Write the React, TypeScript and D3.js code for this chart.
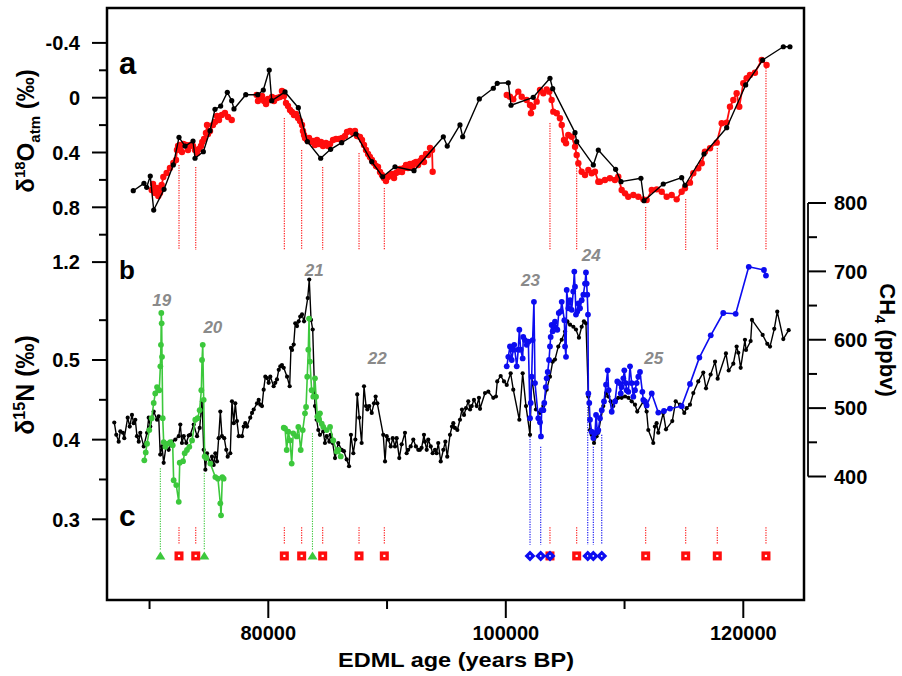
import React from 'react';
import * as d3 from 'd3';

// ---------- DATA (age in ka BP, values in axis units) ----------
const d18oBlack: [number, number][] = [
  [68.63,0.679],[69.53,0.625],[69.76,0.654],[70.06,0.572],[70.35,0.820],[71.22,0.669],[72.00,0.491],[72.48,0.289],[72.99,0.353],[73.66,0.316],[73.83,0.442],[74.53,0.394],[75.09,0.241],[75.51,0.085],[75.99,0.061],[76.55,-0.039],[76.92,0.022],[77.11,0.082],[78.10,-0.022],[79.11,-0.022],[79.58,-0.056],[80.08,-0.202],[80.29,0.022],[81.41,-0.042],[82.53,0.073],[83.29,0.321],[84.41,0.442],[85.25,0.377],[86.18,0.328],[87.38,0.265],[88.71,0.467],[89.63,0.577],[90.67,0.504],[92.27,0.533],[94.74,0.285],[95.07,0.353],[96.14,0.199],[96.37,0.285],[97.77,0.009],[98.95,-0.069],[99.28,-0.105],[100.21,-0.109],[100.44,0.055],[102.31,-0.003],[103.72,-0.142],[103.95,-0.066],[105.83,0.255],[105.97,0.321],[107.37,0.491],[107.79,0.382],[109.25,0.523],[109.70,0.613],[111.38,0.588],[111.64,0.752],[113.26,0.630],[114.81,0.584],[115.09,0.639],[116.69,0.411],[118.60,0.219],[120.20,-0.093],[121.63,-0.275],[123.37,-0.372],[123.93,-0.372]
];

const d18oRed1: [number, number][] = [
  [70.18,0.674],[70.29,0.630],[70.46,0.696],[70.63,0.659],[70.74,0.718],[70.88,0.696],[71.02,0.637],[71.16,0.579],[71.44,0.550],[71.72,0.513],[72.00,0.477],[72.23,0.455],[72.31,0.382],[72.40,0.353],[72.56,0.345],[72.73,0.396],[72.84,0.338],[73.07,0.345],[73.24,0.382],[73.41,0.345],[73.66,0.353],[73.83,0.382],[74.00,0.404],[74.16,0.374],[74.33,0.353],[74.44,0.323],[74.59,0.301],[74.75,0.258],[74.84,0.199],[74.92,0.265],[75.09,0.243],[75.34,0.199],[75.51,0.177],[75.68,0.134],[75.85,0.163],[76.08,0.126],[76.35,0.112],[76.61,0.141],[76.92,0.163]
];

const d18oRed2: [number, number][] = [
  [79.02,-0.020],[79.13,0.024],[79.30,0.002],[79.47,-0.012],[79.64,0.024],[79.81,0.046],[79.97,0.009],[80.14,0.017],[80.31,-0.005],[80.48,0.024],[80.73,0.002],[80.98,-0.005],[81.15,-0.049],[81.32,-0.012],[81.49,0.039],[81.66,0.061],[81.83,0.090],[81.99,0.104],[82.16,0.126],[82.33,0.119],[82.50,0.148],[82.67,0.170],[82.84,0.199],[82.92,0.243],[83.01,0.272],[83.09,0.294],[83.26,0.309],[83.43,0.294],[83.60,0.323],[83.76,0.316],[83.93,0.345],[84.10,0.309],[84.27,0.338],[84.44,0.323],[84.61,0.353],[84.86,0.331],[85.03,0.353],[85.20,0.338],[85.45,0.309],[85.70,0.301],[85.95,0.301],[86.21,0.294],[86.46,0.280],[86.63,0.250],[86.88,0.243],[87.13,0.258],[87.30,0.243],[87.47,0.280],[87.72,0.287],[87.89,0.309],[88.06,0.345],[88.23,0.382],[88.40,0.411],[88.56,0.433],[88.73,0.455],[88.90,0.477],[89.07,0.499],[89.24,0.506],[89.41,0.542],[89.57,0.564],[89.74,0.586],[89.91,0.608],[90.08,0.579],[90.25,0.564],[90.42,0.557],[90.59,0.586],[90.75,0.550],[90.92,0.542],[91.09,0.520],[91.26,0.542],[91.43,0.513],[91.60,0.491],[91.76,0.513],[91.93,0.484],[92.10,0.506],[92.27,0.477],[92.44,0.469],[92.61,0.491],[92.78,0.462],[92.94,0.440],[93.11,0.469],[93.28,0.411],[93.45,0.418],[93.62,0.367],[93.79,0.382],[93.84,0.540]
];

const d18oRed3: [number, number][] = [
  [100.08,-0.020],[100.35,-0.007],[100.63,0.012],[101.05,-0.044],[101.34,-0.007],[101.76,0.017],[102.04,0.053],[102.12,0.114],[102.30,0.066],[102.60,0.029],[102.88,-0.056],[103.16,-0.032],[103.44,-0.061],[103.66,-0.044],[103.86,0.017],[104.00,0.102],[104.29,0.114],[104.56,0.150],[104.71,0.199],[104.90,0.309],[105.07,0.333],[105.26,0.272],[105.55,0.285],[105.83,0.358],[105.97,0.418],[106.11,0.479],[106.39,0.540],[106.67,0.564],[106.95,0.528],[107.23,0.552],[107.51,0.540],[107.79,0.613],[107.93,0.613],[108.35,0.601],[108.77,0.588],[109.19,0.601],[109.47,0.577],[109.76,0.674],[110.04,0.698],[110.31,0.723],[110.74,0.710],[111.16,0.723],[111.58,0.742],[111.86,0.747],[112.29,0.674],[112.71,0.669],[113.13,0.686],[113.55,0.723],[113.97,0.710],[114.39,0.742],[114.81,0.686],[115.09,0.661],[115.51,0.620],[115.79,0.552],[116.21,0.515],[116.50,0.479],[116.77,0.394],[117.20,0.369],[117.76,0.328],[118.18,0.187],[118.60,0.182],[118.88,0.066],[119.16,0.017],[119.44,-0.032],[119.66,0.066],[120.00,-0.105],[120.28,-0.142],[120.56,-0.166],[120.98,-0.182],[121.55,-0.275],[121.96,-0.239]
];

const ch4Black: [number, number][] = [
  [67.03,479],[67.20,461],[67.40,451],[67.54,466],[67.76,464],[67.87,456],[68.16,486],[68.33,473],[68.52,490],[68.66,478],[68.80,483],[68.94,459],[69.09,451],[69.22,464],[69.51,444],[69.79,464],[69.93,486],[70.06,473],[70.35,495],[70.63,483],[70.77,488],[70.90,432],[71.05,444],[71.19,420],[71.41,447],[71.61,439],[71.89,451],[72.17,454],[72.46,459],[72.59,476],[72.73,449],[72.88,459],[73.09,449],[73.30,460],[73.43,461],[73.72,476],[74.00,459],[74.22,471],[74.42,510],[74.56,439],[74.70,410],[74.84,434],[75.12,420],[75.26,429],[75.40,417],[75.54,434],[75.68,422],[75.82,456],[75.96,495],[76.10,459],[76.29,456],[76.46,439],[76.58,429],[76.80,434],[76.94,510],[77.09,478],[77.22,507],[77.36,481],[77.51,459],[77.79,459],[77.93,473],[78.06,478],[78.21,473],[78.48,486],[78.63,493],[78.77,498],[79.05,507],[79.19,512],[79.33,505],[79.47,503],[79.61,527],[79.75,546],[79.89,544],[80.03,537],[80.17,546],[80.45,532],[80.59,537],[80.73,542],[80.88,556],[81.01,561],[81.15,563],[81.30,559],[81.58,546],[81.80,532],[81.91,588],[82.00,585],[82.14,593],[82.27,624],[82.42,620],[82.56,627],[82.69,634],[82.84,637],[83.01,627],[83.32,661],[83.45,688],[83.60,629],[83.74,615],[83.93,503],[84.07,483],[84.21,468],[84.35,461],[84.63,466],[84.77,449],[84.92,459],[85.14,451],[85.25,461],[85.42,449],[85.62,427],[85.89,449],[86.18,439],[86.37,437],[86.60,425],[86.80,415],[86.96,461],[87.16,434],[87.33,454],[87.49,520],[87.66,486],[87.86,449],[88.06,532],[88.23,503],[88.34,498],[88.50,503],[88.71,493],[88.90,507],[89.04,517],[89.18,507],[89.68,461],[89.83,422],[89.97,459],[90.10,454],[90.31,444],[90.48,456],[90.67,444],[90.81,456],[91.03,427],[91.23,447],[91.51,464],[91.65,434],[91.78,439],[91.99,444],[92.21,454],[92.43,444],[92.63,439],[92.77,439],[92.91,442],[93.11,461],[93.19,451],[93.34,439],[93.47,454],[93.68,444],[93.84,434],[94.04,439],[94.18,434],[94.31,449],[94.52,422],[94.74,439],[94.91,451],[95.07,429],[95.30,461],[95.47,473],[95.58,478],[95.72,471],[95.92,468],[96.14,483],[96.31,498],[96.48,490],[96.65,500],[96.84,510],[96.99,498],[97.13,503],[97.32,512],[97.55,503],[97.74,515],[97.83,499],[98.25,522],[98.53,524],[98.95,515],[99.17,517],[99.28,539],[99.57,547],[99.85,539],[100.08,534],[100.41,551],[100.63,527],[101.14,483],[101.42,551],[101.70,503],[102.04,461],[102.18,546],[102.54,498],[102.88,493],[103.16,503],[103.44,527],[103.72,546],[103.95,568],[104.14,571],[104.42,590],[104.71,600],[104.99,612],[105.18,627],[105.41,622],[105.69,619],[105.91,615],[106.16,603],[106.39,619],[106.58,627],[106.75,624],[106.95,517],[107.09,468],[107.23,461],[107.43,449],[107.65,459],[107.79,464],[108.21,503],[108.44,522],[108.63,517],[108.83,510],[109.05,503],[109.28,512],[109.47,515],[109.76,515],[110.04,517],[110.32,515],[110.60,510],[110.88,505],[111.07,495],[111.58,510],[111.86,495],[112.00,468],[112.42,449],[112.56,473],[112.70,478],[112.84,464],[113.26,493],[113.49,469],[114.02,481],[114.31,510],[114.67,505],[115.03,493],[115.23,500],[115.51,505],[115.79,522],[116.21,539],[116.63,552],[116.86,529],[117.25,549],[117.62,568],[117.84,543],[118.54,580],[118.77,555],[119.16,565],[119.44,590],[119.58,581],[119.78,559],[120.14,600],[120.23,585],[120.62,598],[120.73,629],[121.63,607],[122.02,594],[122.25,590],[122.61,616],[122.86,641],[123.37,601],[123.82,614]
];

const d15nGreen1: [number, number][] = [
  [69.56,0.374],[69.68,0.384],[69.79,0.395],[69.98,0.412],[70.18,0.427],[70.35,0.446],[70.48,0.458],[70.63,0.466],[70.82,0.462],[70.91,0.492],[70.96,0.519],[70.99,0.559],[71.02,0.546],[71.05,0.504],[71.11,0.427],[71.19,0.397],[71.33,0.391],[71.53,0.395],[71.75,0.397],[71.95,0.393],[72.03,0.349],[72.25,0.343],[72.46,0.322],[72.54,0.371],[72.82,0.373],[72.96,0.383],[73.15,0.387],[73.35,0.391],[73.58,0.399],[73.85,0.425],[74.05,0.427],[74.22,0.437],[74.36,0.462],[74.42,0.500],[74.48,0.519],[74.56,0.450],[74.64,0.379],[74.78,0.377],[75.12,0.370],[75.54,0.353],[75.76,0.351],[75.96,0.320],[76.02,0.305],[76.13,0.353],[76.24,0.351]
];

const d15nGreen2: [number, number][] = [
  [81.30,0.415],[81.41,0.414],[81.55,0.387],[81.68,0.410],[81.83,0.399],[81.97,0.370],[82.10,0.408],[82.39,0.404],[82.53,0.416],[82.73,0.387],[82.90,0.412],[83.09,0.433],[83.18,0.441],[83.28,0.479],[83.37,0.513],[83.43,0.552],[83.51,0.498],[83.65,0.462],[83.79,0.454],[83.93,0.477],[84.02,0.454],[84.13,0.429],[84.27,0.425],[84.35,0.433],[84.50,0.420],[84.63,0.416],[84.92,0.412],[85.20,0.416],[85.47,0.399],[85.76,0.385],[85.90,0.387],[86.10,0.379]
];

const d15nBlue: [number, number][] = [
  [100.08,0.492],[100.21,0.504],[100.35,0.517],[100.50,0.500],[100.63,0.513],[100.71,0.519],[100.92,0.492],[101.05,0.513],[101.14,0.538],[101.25,0.513],[101.42,0.502],[101.47,0.529],[101.61,0.525],[101.76,0.519],[101.90,0.523],[102.04,0.427],[102.10,0.446],[102.18,0.479],[102.26,0.525],[102.37,0.573],[102.46,0.471],[102.74,0.427],[102.88,0.422],[102.96,0.404],[103.02,0.437],[103.16,0.437],[103.24,0.446],[103.36,0.466],[103.44,0.477],[103.53,0.485],[103.64,0.500],[103.72,0.517],[103.78,0.529],[103.86,0.544],[103.95,0.536],[104.06,0.542],[104.14,0.548],[104.34,0.538],[104.46,0.559],[104.62,0.561],[104.71,0.573],[104.93,0.550],[104.99,0.517],[105.07,0.504],[105.13,0.588],[105.27,0.565],[105.41,0.575],[105.55,0.563],[105.68,0.586],[105.77,0.611],[105.83,0.592],[105.91,0.557],[106.02,0.561],[106.11,0.571],[106.25,0.565],[106.39,0.575],[106.53,0.582],[106.67,0.596],[106.75,0.610],[106.81,0.596],[106.86,0.582],[106.92,0.557],[106.95,0.458],[107.03,0.446],[107.09,0.425],[107.23,0.410],[107.37,0.402],[107.51,0.408],[107.60,0.431],[107.71,0.410],[107.79,0.412],[107.93,0.427],[108.08,0.437],[108.27,0.448],[108.44,0.469],[108.58,0.487],[108.66,0.462],[108.92,0.435],[109.20,0.448],[109.39,0.473],[109.56,0.471],[109.68,0.458],[109.76,0.466],[109.90,0.477],[109.98,0.487],[110.10,0.471],[110.18,0.462],[110.32,0.460],[110.46,0.492],[110.60,0.471],[110.74,0.454],[110.88,0.462],[111.02,0.471],[111.16,0.479],[111.30,0.485],[111.50,0.460],[111.58,0.450],[111.72,0.448],[111.86,0.443],[112.29,0.458],[112.84,0.434],[113.32,0.436],[113.83,0.439],[114.81,0.442],[115.51,0.470],[116.30,0.503],[117.26,0.531],[118.31,0.559],[119.36,0.558],[120.46,0.617],[121.74,0.613],[121.91,0.606]
];

// tie points
const redTieAges = [72.48, 73.89, 81.35, 82.81, 84.58, 87.64, 89.77, 103.72, 105.97, 111.78, 115.15, 117.81, 121.91];
const redTieTopD18O = [0.492, 0.506, 0.148, 0.382, 0.506, 0.404, 0.659, 0.185, 0.477, 0.798, 0.739, 0.367, -0.253];
const redTieBottomD18O = 1.112;
const greenTieAges = [70.91, 74.61, 83.72];
const greenTieTopD15N = [0.364, 0.358, 0.408];
const blueTieAges = [102.04, 102.94, 103.72, 106.90, 107.37, 108.08];
const blueTieTopD15N = [0.404, 0.391, NaN, 0.441, 0.391, 0.406];
const markerLevelD15N = 0.254;
const tieLineBottomD15N = 0.268;
const redShortTopD15N = 0.290;

// event labels
const eventNames = ['19', '20', '21', '22', '23', '24', '25'];
const eventAges = [71.02, 75.33, 83.87, 89.17, 102.08, 107.20, 112.46];
const eventLevelsD15N = [0.568, 0.534, 0.605, 0.495, 0.593, 0.624, 0.495];

// axis ticks
const ageMajor = [80, 100, 120];
const ageMajorLabels = ['80000', '100000', '120000'];
const ageMinor = [70, 90, 110];
const d18oMajor = [-0.4, 0, 0.4, 0.8, 1.2];
const d18oMajorLabels = ['-0.4', '0', '0.4', '0.8', '1.2'];
const d18oMinor = [-0.2, 0.2, 0.6, 1.0];
const d15nMajor = [0.3, 0.4, 0.5];
const d15nMajorLabels = ['0.3', '0.4', '0.5'];
const d15nMinor = [0.35, 0.45, 0.55];
const ch4Major = [400, 500, 600, 700, 800];
const ch4Minor = [450, 550, 650, 750];

// ---------- SCALES ----------
const FONT = "'Liberation Sans', Arial, Helvetica, sans-serif";
const L = 107, R = 804, T = 8, B = 600;
const CH4AxisX = 808;
const x = d3.scaleLinear().domain([66.417, 125.196]).range([107, 805]);
const yO = d3.scaleLinear().domain([0, 1.2]).range([97.7, 262.1]);
const yN = d3.scaleLinear().domain([0.3, 0.5]).range([519.3, 360]);
const yC = d3.scaleLinear().domain([400, 800]).range([476.5, 203]);

const RED = '#ff0d0d';
const GREEN = '#3cc83c';
const BLUE = '#0c0cf0';
const GREY = '#8a8a8a';

function Series({ data, y, color, r, w }: { data: [number, number][]; y: d3.ScaleLinear<number, number>; color: string; r: number; w: number }) {
  const line = d3.line<[number, number]>().x(d => x(d[0])).y(d => y(d[1]));
  return (
    <g>
      <path d={line(data) || ''} fill="none" stroke={color} strokeWidth={w} strokeLinejoin="round" />
      {data.map((d, i) => (
        <circle key={i} cx={x(d[0])} cy={y(d[1])} r={r} fill={color} />
      ))}
    </g>
  );
}

export default function App() {
  const axisX = CH4AxisX;
  return (
    <svg width={902} height={676} style={{ position: 'absolute', left: 0, top: 0, background: '#fff' }} fontFamily={FONT}>
      <rect x={0} y={0} width={902} height={676} fill="#fff" />
      {/* tie lines panel a */}
      {redTieAges.map((a, i) => (
        <line key={'ra' + i} x1={x(a)} x2={x(a)} y1={yO(redTieTopD18O[i])} y2={yO(redTieBottomD18O)} stroke={RED} strokeWidth={1.1} strokeDasharray="1.2 1.3" />
      ))}
      {/* short red dotted lines panel c */}
      {redTieAges.map((a, i) => (
        <line key={'rc' + i} x1={x(a)} x2={x(a)} y1={yN(redShortTopD15N)} y2={yN(tieLineBottomD15N)} stroke={RED} strokeWidth={1.1} strokeDasharray="1.2 1.3" />
      ))}
      {greenTieAges.map((a, i) => (
        <line key={'gt' + i} x1={x(a)} x2={x(a)} y1={yN(greenTieTopD15N[i])} y2={yN(0.262)} stroke={GREEN} strokeWidth={1.1} strokeDasharray="1.2 1.3" />
      ))}
      {blueTieAges.map((a, i) => isNaN(blueTieTopD15N[i]) ? null : (
        <line key={'bt' + i} x1={x(a)} x2={x(a)} y1={yN(blueTieTopD15N[i])} y2={yN(tieLineBottomD15N)} stroke={BLUE} strokeWidth={1.1} strokeDasharray="1.2 1.3" />
      ))}

      {/* panel a series */}
      <Series data={d18oRed1} y={yO} color={RED} r={3.2} w={1.8} />
      <Series data={d18oRed2} y={yO} color={RED} r={3.2} w={1.8} />
      <Series data={d18oRed3} y={yO} color={RED} r={3.2} w={1.8} />
      <Series data={d18oBlack} y={yO} color="#000" r={2.6} w={1.4} />

      {/* panel b series */}
      <Series data={ch4Black} y={yC} color="#000" r={2.1} w={1.4} />
      <Series data={d15nGreen1} y={yN} color={GREEN} r={2.9} w={1.6} />
      <Series data={d15nGreen2} y={yN} color={GREEN} r={2.9} w={1.6} />
      <Series data={d15nBlue} y={yN} color={BLUE} r={2.9} w={1.6} />

      {/* markers panel c */}
      {redTieAges.map((a, i) => {
        const cx = x(a), cy = yN(markerLevelD15N);
        return (
          <g key={'rs' + i}>
            <rect x={cx - 4.5} y={cy - 4.5} width={9} height={9} fill={RED} />
            <rect x={cx - 1.1} y={cy - 1.1} width={2.2} height={2.2} fill="#fff" />
          </g>
        );
      })}
      {greenTieAges.map((a, i) => {
        const cx = x(a), cy = yN(markerLevelD15N);
        return <polygon key={'gtri' + i} points={`${cx - 5},${cy + 3.5} ${cx + 5},${cy + 3.5} ${cx},${cy - 4.5}`} fill={GREEN} />;
      })}
      {blueTieAges.map((a, i) => {
        const cx = x(a), cy = yN(markerLevelD15N);
        return (
          <g key={'bd' + i}>
            <polygon points={`${cx},${cy - 5.5} ${cx + 5.5},${cy} ${cx},${cy + 5.5} ${cx - 5.5},${cy}`} fill={BLUE} />
            <circle cx={cx} cy={cy} r={0.9} fill="#fff" />
          </g>
        );
      })}

      {/* event labels */}
      {eventNames.map((n, i) => (
        <text key={'ev' + i} x={x(eventAges[i])} y={yN(eventLevelsD15N[i])} textAnchor="middle" fontSize={17} fontWeight="bold" fontStyle="italic" fill={GREY}>{n}</text>
      ))}

      {/* frame */}
      <rect x={L} y={T} width={R - L} height={B - T} fill="none" stroke="#000" strokeWidth={2.5} />

      {/* x axis ticks */}
      {ageMajor.map((a, i) => (
        <g key={'xm' + i}>
          <line x1={x(a)} x2={x(a)} y1={B} y2={B + 18} stroke="#000" strokeWidth={2} />
          <text x={x(a)} y={640} textAnchor="middle" fontSize={20} fontWeight="bold">{ageMajorLabels[i]}</text>
        </g>
      ))}
      {ageMinor.map((a, i) => (
        <line key={'xn' + i} x1={x(a)} x2={x(a)} y1={B} y2={B + 9} stroke="#000" strokeWidth={2} />
      ))}
      <text x={456} y={667} textAnchor="middle" fontSize={21} fontWeight="bold" textLength={236} lengthAdjust="spacingAndGlyphs">EDML age (years BP)</text>

      {/* left axis: d18O */}
      {d18oMajor.map((v, i) => (
        <g key={'om' + i}>
          <line x1={L - 15} x2={L} y1={yO(v)} y2={yO(v)} stroke="#000" strokeWidth={2} />
          <text x={80} y={yO(v)} dy="0.36em" textAnchor="end" fontSize={20} fontWeight="bold">{d18oMajorLabels[i]}</text>
        </g>
      ))}
      {d18oMinor.map((v, i) => (
        <line key={'on' + i} x1={L - 8} x2={L} y1={yO(v)} y2={yO(v)} stroke="#000" strokeWidth={2} />
      ))}
      {d15nMajor.map((v, i) => (
        <g key={'nm' + i}>
          <line x1={L - 15} x2={L} y1={yN(v)} y2={yN(v)} stroke="#000" strokeWidth={2} />
          <text x={80} y={yN(v)} dy="0.36em" textAnchor="end" fontSize={20} fontWeight="bold">{d15nMajorLabels[i]}</text>
        </g>
      ))}
      {d15nMinor.map((v, i) => (
        <line key={'nn' + i} x1={L - 8} x2={L} y1={yN(v)} y2={yN(v)} stroke="#000" strokeWidth={2} />
      ))}

      {/* right axis: CH4 */}
      <line x1={axisX} x2={axisX} y1={yC(800)} y2={yC(400)} stroke="#000" strokeWidth={1.8} />
      {ch4Major.map((v, i) => (
        <g key={'cm' + i}>
          <line x1={axisX} x2={axisX + 18} y1={yC(v)} y2={yC(v)} stroke="#000" strokeWidth={2} />
          <text x={834} y={yC(v)} dy="0.36em" textAnchor="start" fontSize={20} fontWeight="bold">{String(v)}</text>
        </g>
      ))}
      {ch4Minor.map((v, i) => (
        <line key={'cn' + i} x1={axisX} x2={axisX + 9} y1={yC(v)} y2={yC(v)} stroke="#000" strokeWidth={2} />
      ))}

      {/* axis titles */}
      <text transform="translate(34,131) rotate(-90)" textAnchor="middle" fontSize={24} fontWeight="bold">
        δ<tspan dy="-9" fontSize={15}>18</tspan><tspan dy="9">O</tspan><tspan dy="6" fontSize={15}>atm</tspan><tspan dy="-6"> (‰)</tspan>
      </text>
      <text transform="translate(34,385) rotate(-90)" textAnchor="middle" fontSize={25} fontWeight="bold">
        δ<tspan dy="-9" fontSize={16}>15</tspan><tspan dy="9">N (‰)</tspan>
      </text>
      <text transform="translate(880,340) rotate(90)" textAnchor="middle" fontSize={22} fontWeight="bold">
        CH<tspan dy="5" fontSize={15}>4</tspan><tspan dy="-5"> (ppbv)</tspan>
      </text>

      {/* panel letters */}
      <text x={119} y={74} fontSize={31} fontWeight="bold">a</text>
      <text x={119} y={279} fontSize={26} fontWeight="bold">b</text>
      <text x={119} y={526} fontSize={30} fontWeight="bold">c</text>
    </svg>
  );
}
